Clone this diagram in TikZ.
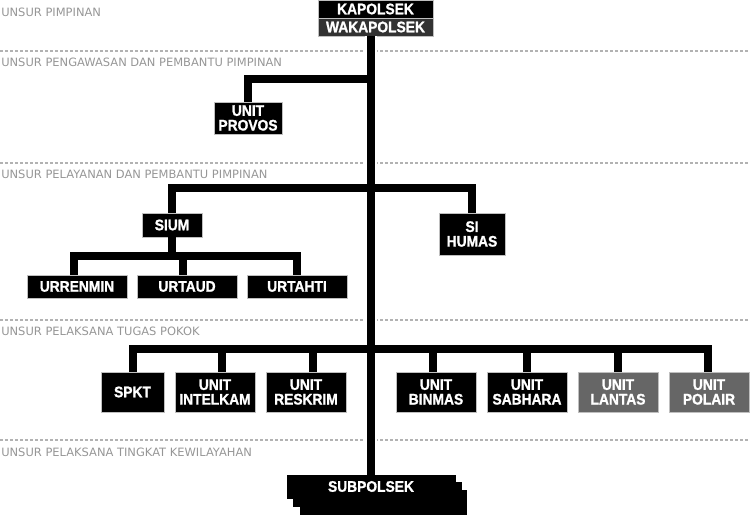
\documentclass[tikz,border=0pt]{standalone}
\usepackage{fontspec}
\setmainfont{DejaVu Sans}
\newfontfamily\boxfont[FakeStretch=0.9,BoldFeatures={FakeBold=1.2}]{Liberation Sans}
\usetikzlibrary{positioning,calc}
\definecolor{labelgray}{RGB}{150,150,150}
\definecolor{dashgray}{RGB}{178,178,178}
\definecolor{unitgray}{RGB}{102,102,102}
\definecolor{wakagray}{RGB}{50,50,50}

\begin{document}
\begin{tikzpicture}[x=0.75pt, y=-0.75pt,
	unit/.style={draw=black!25, line width=0.5pt, fill=black, text=white, align=center, inner sep=0pt,
		font=\boxfont\bfseries\fontsize{11.5}{11}\selectfont},
	graybox/.style={unit, fill=unitgray},
	stack/.style={fill=black, inner sep=0pt, minimum width=126pt, minimum height=18.5pt},
	sectlabel/.style={anchor=west, inner sep=0pt, text=labelgray, font=\fontsize{8.6}{10}\selectfont},
	sepline/.style={dashgray, line width=1.5pt, dash pattern=on 2.25pt off 1.5pt},
	link/.style={line width=6pt},
	trunk/.style={line width=6.5pt, preaction={draw=white, line width=9.5pt}}]
		\useasboundingbox (0,0) rectangle (750,516);

		% section lines and labels
		\draw[sepline] (0,51) -- (750,51);
		\draw[sepline] (0,163) -- (750,163);
		\draw[sepline] (0,320) -- (750,320);
		\draw[sepline] (0,440) -- (750,440);
		\node[sectlabel] (lpimpinan) at (1,12) {UNSUR PIMPINAN};
		\node[sectlabel] (lawas) at (1,62) {UNSUR PENGAWASAN DAN PEMBANTU PIMPINAN};
		\node[sectlabel] (llayan) at (1,174) {UNSUR PELAYANAN DAN PEMBANTU PIMPINAN};
		\node[sectlabel] (lpokok) at (1,331) {UNSUR PELAKSANA TUGAS POKOK};
		\node[sectlabel] (lwilayah) at (1,452) {UNSUR PELAKSANA TINGKAT KEWILAYAHAN};

		% subpolsek (stacked)
		\node[stack,minimum width=125.25pt] (sub3) at (383.5,502.5) {};
		\node[stack,minimum width=126.75pt] (sub2) at (377.5,494.5) {};
		\node[stack,draw=black,minimum height=17.25pt,text=white,font=\boxfont\bfseries\fontsize{11.5}{11}\selectfont] (sub1) at (371,486.5) {SUBPOLSEK};

		% pimpinan
		\node[unit,minimum width=86.25pt,minimum height=13.5pt] (kapolsek) at (375.5,9) {KAPOLSEK};
		\node[unit,fill=wakagray,minimum width=86.25pt,minimum height=13.5pt] (wakapolsek) at (375.5,27) {WAKAPOLSEK};

		% trunk
		\draw[trunk] (wakapolsek.south -| sub1.north) -- (sub1.north);
		\coordinate (jprovos) at (371,79.5);
		\coordinate (jlayan) at (371,188);
		\coordinate (jur) at (172,256);
		\coordinate (jpokok) at (371,349);

		% pengawasan
		\node[unit,minimum width=51pt,minimum height=24pt] (provos) at (248,118) {UNIT\\PROVOS};
		\draw[link] (provos.north) |- (jprovos);

		% pelayanan
		\node[unit,minimum width=45pt,minimum height=18pt] (sium) at (172,225) {SIUM};
		\node[unit,minimum width=49.5pt,minimum height=31.5pt] (humas) at (472,234) {SI\\HUMAS};
		\draw[link] (sium.north) |- (jlayan) -| (humas.north);

		\node[unit,minimum width=75pt,minimum height=17.25pt] (urrenmin) at (77,286.5) {URRENMIN};
		\node[unit,minimum width=75pt,minimum height=17.25pt] (urtaud) at (187,286.5) {URTAUD};
		\node[unit,minimum width=75pt,minimum height=17.25pt] (urtahti) at (297,286.5) {URTAHTI};
		\draw[link] (sium.south) -- (jur);
		\draw[link] ([xshift=-2.25pt]urrenmin.north) |- (jur) -| (urtahti.north);
		\draw[link] ([xshift=-3pt]urtaud.north) -- ([xshift=-3pt]urtaud.north |- jur);

		% tugas pokok
		\node[unit,minimum width=47.25pt,minimum height=30pt] (spkt) at (132.5,392) {SPKT};
		\node[unit,minimum width=60pt,minimum height=30pt] (intelkam) at (215,392) {UNIT\\INTELKAM};
		\node[unit,minimum width=60pt,minimum height=30pt] (reskrim) at (306,392) {UNIT\\RESKRIM};
		\node[unit,minimum width=60pt,minimum height=30pt] (binmas) at (436,392) {UNIT\\BINMAS};
		\node[unit,minimum width=60pt,minimum height=30pt] (sabhara) at (527,392) {UNIT\\SABHARA};
		\node[graybox,minimum width=60pt,minimum height=30pt] (lantas) at (618,392) {UNIT\\LANTAS};
		\node[graybox,minimum width=60pt,minimum height=30pt] (polair) at (709,392) {UNIT\\POLAIR};
		\draw[link] (spkt.north) |- (jpokok) -| ([xshift=-1.1pt]polair.north);
		\draw[link] ([xshift=5.25pt]intelkam.north) -- ([xshift=5.25pt]intelkam.north |- jpokok);
		\draw[link] ([xshift=5.25pt]reskrim.north) -- ([xshift=5.25pt]reskrim.north |- jpokok);
		\draw[link] ([xshift=-2.25pt]binmas.north) -- ([xshift=-2.25pt]binmas.north |- jpokok);
		\draw[link] (sabhara.north) -- (sabhara.north |- jpokok);
		\draw[link] (lantas.north) -- (lantas.north |- jpokok);
\end{tikzpicture}
\end{document}
